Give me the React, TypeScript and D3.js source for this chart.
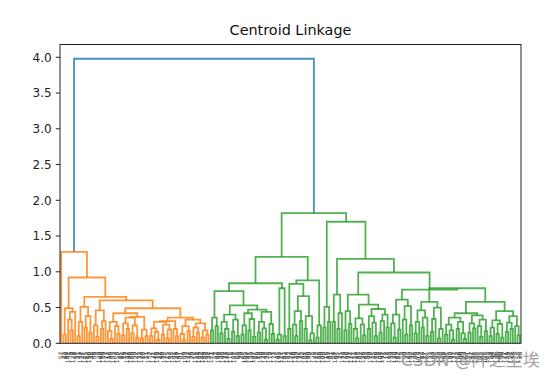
import React from "react";
import * as d3 from "d3";

type Node = number | [number, Node, Node];

// ---- data: merge heights (Centroid linkage) and leaf labels ----
const Oa: Node = [0.49, [0.12, 23, 88], [0.44, [0.33, 141, [0.18, 9, 176]], 64]];
const Ob1: Node = [0.51, [0.3, [0.1, 31, 152], 77], [0.38, [0.22, 105, 12], [0.15, 190, 44]]];
const Ob2a: Node = [0.46, [0.25, 68, [0.09, 3, 129]], [0.31, [0.2, 96, 159], 27]];
const Ob2b1: Node = [0.42,
  [0.3, [0.17, 112, [0.06, 40, 183]], [0.24, 7, [0.13, 150, 85]]],
  [0.37, [0.36, [0.28, [0.11, 61, 19], [0.2, 137, 98]], [0.25, [0.14, 166, 50], [0.08, 122, 33]]],
    [0.19, [0.07, 174, 60], [0.1, 11, 143]]]];
const Ob2b2: Node = [0.36,
  [0.31,
    [0.3, [0.21, [0.1, 2, 171], [0.16, 46, [0.05, 118, 74]]], [0.26, [0.12, 90, 135], [0.19, [0.07, 15, 162], 53]]],
    [0.2, 101, [0.1, 28, 147]]],
  [0.33, [0.24, [0.13, 81, [0.04, 6, 193]], [0.17, 127, 38]],
    [0.28, [0.22, [0.09, 70, 156], [0.15, 11, 109]], [0.18, [0.08, 144, 59], [0.12, 186, 24]]]]];
const ORANGE: Node = [1.28, 57, [0.92, Oa, [0.65, Ob1, [0.6, Ob2a, [0.49, Ob2b1, Ob2b2]]]]];

const A1: Node = [0.36, [0.18, 121, 4], [0.24, 87, 160]];
const A2a: Node = [0.4, [0.3, [0.14, 34, 199], [0.2, 71, [0.06, 140, 115]]], [0.33, [0.16, 8, 181], [0.1, 56, 93]]];
const A2b: Node = [0.47,
  [0.42, [0.25, [0.12, 29, 165], 102], [0.34, [0.18, 47, 130], [0.09, 187, 66]]],
  [0.44, [0.3, [0.15, 13, 158], [0.21, 79, [0.05, 145, 36]]], [0.27, 110, [0.13, 1, 173]]]];
const GL1b: Node = [0.77, [0.12, [0.05, 45, 192], 117], [0.1, 83, 154]];
const C1: Node = [0.83, [0.2, 63, 124],
  [0.66, [0.45, [0.26, 18, [0.1, 139, 92]], [0.31, 175, 42]], [0.38, [0.2, 107, 60], [0.14, [0.04, 149, 5], 126]]]];
const C2: Node = [0.25, [0.08, 72, 188], 30];
const GL: Node = [1.21, [0.84, [0.73, A1, [0.53, A2a, A2b]], GL1b], [0.88, C1, C2]];

const D1: Node = [0.51, [0.22, 100, 16], [0.3, 143, 81]];
const E1: Node = [0.68, [0.3, 54, 167], [0.42, [0.2, 95, 21], 133]];
const F1a: Node = [0.45, [0.18, 78, 196], [0.27, 37, 114]];
const F1b1: Node = [0.35, [0.2, 151, [0.07, 10, 185]], [0.26, 67, [0.11, 128, 43]]];
const F1b2: Node = [0.48, [0.38, [0.2, 89, 170], [0.29, 25, [0.1, 136, 58]]], [0.4, [0.31, [0.15, 104, 197], 76], [0.22, 14, 163]]];
const G1: Node = [0.61, [0.4, [0.28, 39, [0.08, 120, 179]], [0.19, 82, 153]], [0.52, [0.33, 0, [0.12, 99, 146]], [0.25, 62, 132]]];
const H1: Node = [0.58, [0.46, [0.3, [0.14, 48, 172], 119], [0.36, [0.22, 86, 17], [0.1, 161, 55]]],
  [0.5, [0.34, [0.16, 134, 69], 195], [0.2, [0.07, 26, 113], 148]]];
const H2a: Node = [0.42,
  [0.36, [0.26, [0.12, 97, 35], [0.18, 180, [0.05, 73, 131]]], [0.3, [0.2, 52, 168], [0.14, 108, [0.06, 20, 157]]]],
  [0.39, [0.28, [0.15, 91, 142], [0.21, 11, 189]], [0.33, [0.24, 65, [0.09, 125, 44]], [0.17, 178, 103]]]];
const H2b: Node = [0.45,
  [0.32, [0.22, [0.1, 59, 164], 32], [0.27, [0.13, 138, 80], [0.08, 198, 22]]],
  [0.38, [0.29, [0.16, 111, 49], [0.2, 174, 94]], [0.24, 3, [0.11, 155, 68]]]];
const GR: Node = [1.7, D1, [1.18, E1, [0.99, [0.68, F1a, [0.54, F1b1, F1b2]], [0.75, G1, [0.77, H1, [0.58, H2a, H2b]]]]]];
const GREEN: Node = [1.82, GL, GR];

const ROOT: Node = [3.98, ORANGE, GREEN];

const yTicks = [0, 0.5, 1, 1.5, 2, 2.5, 3, 3.5, 4];
const palette = ["#ff7f0e", "#2ca02c", "#d62728", "#9467bd"];
const aboveColor = "#1f77b4";

type Link = { xl: number; xr: number; yl: number; yr: number; h: number; color: string };

function build(root: Node) {
  const leaves: { label: number; x: number }[] = [];
  const links: Link[] = [];
  let counter = 0;
  let ci = 0;
  const maxH = (root as any)[0] as number;
  const threshold = 0.7 * maxH;
  function walk(n: Node, color: string | null): { x: number; h: number } {
    if (typeof n === "number") {
      const x = 10 * counter + 5;
      counter++;
      leaves.push({ label: n, x });
      return { x, h: 0 };
    }
    const [h, a, b] = n;
    let c = color;
    if (!c && h < threshold) {
      c = palette[ci % palette.length];
      ci++;
    }
    const L = walk(a, c);
    const R = walk(b, c);
    links.push({ xl: L.x, xr: R.x, yl: L.h, yr: R.h, h, color: c || aboveColor });
    return { x: (L.x + R.x) / 2, h };
  }
  walk(root, null);
  return { leaves, links, n: counter, maxH };
}

const { leaves, links, n, maxH } = build(ROOT);

export default function App() {
  const left = 60, right = 521, bottom = 343.3;
  const ymax = maxH * 1.05;
  const x = d3.scaleLinear().domain([0, 10 * n]).range([left, right]);
  const y = d3.scaleLinear().domain([0, 4]).range([bottom, 57.3]);
  const top = y(ymax);
  const fmt = d3.format(".1f");
  return (
    <svg width={553} height={377} style={{ position: "absolute", left: 0, top: 0, background: "#fff" }}
      fontFamily="DejaVu Sans, sans-serif">
      <rect x={0} y={0} width={553} height={377} fill="#fff" />
      <text x={(left + right) / 2} y={35} textAnchor="middle" fontSize={14.4} fill="#111">Centroid Linkage</text>
      <g fill="none" strokeWidth={1.8} strokeOpacity={0.82}>
        {links.map((l, i) => (
          <path key={i} stroke={l.color}
            d={`M${x(l.xl)},${y(l.yl)}V${y(l.h)}H${x(l.xr)}V${y(l.yr)}`} />
        ))}
      </g>
      <rect x={left} y={top} width={right - left} height={bottom - top} fill="none" stroke="#222" strokeWidth={1} />
      {yTicks.map((t) => (
        <g key={t}>
          <line x1={left - 4.2} x2={left} y1={y(t)} y2={y(t)} stroke="#222" strokeWidth={1} />
          <text x={left - 8.4} y={y(t)} dy="0.36em" textAnchor="end" fontSize={12} fill="#222">{fmt(t)}</text>
        </g>
      ))}
      <g fontSize={6} fill="#333">
        {leaves.map((lf, i) => (
          <text key={i} transform={`translate(${x(lf.x)},${bottom + 8.4}) rotate(-90)`} textAnchor="end" dy="0.35em">
            {lf.label}
          </text>
        ))}
      </g>
      <text x={401} y={366} fontSize={17} fill="#999" opacity={0.9}
        fontFamily="DejaVu Sans, 'Noto Sans CJK SC', sans-serif">CSDN @阡之尘埃</text>
    </svg>
  );
}
